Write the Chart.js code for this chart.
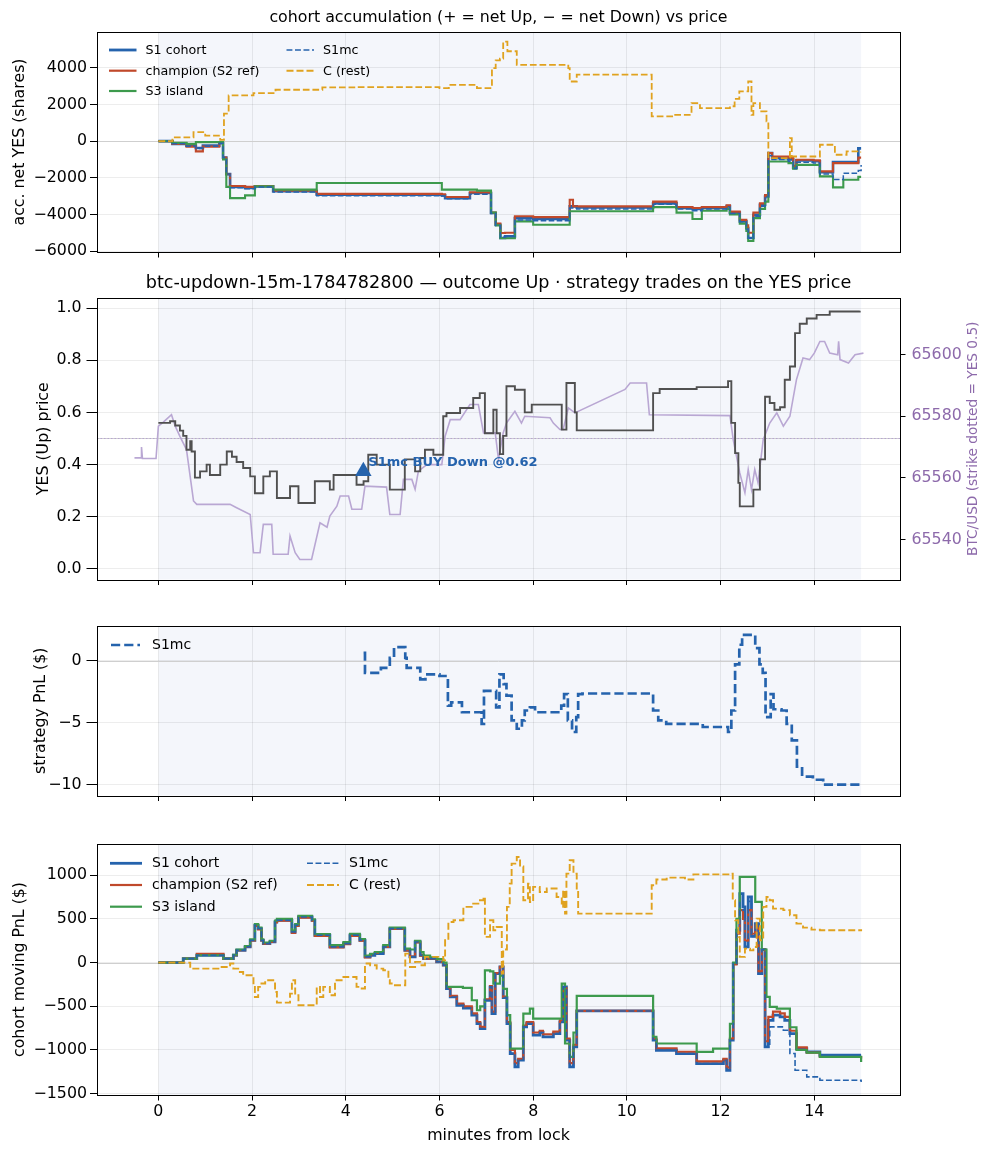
<!DOCTYPE html>
<html>
<head>
<meta charset="utf-8">
<script src="https://cdn.jsdelivr.net/npm/chart.js@4.4.1/dist/chart.umd.min.js"></script>
<style>
  html, body { margin: 0; padding: 0; background: #fff; }
  #wrap { position: relative; width: 993px; height: 1156px; }
  canvas { position: absolute; left: 0; }
</style>
</head>
<body>
<div id="wrap">
  <canvas id="accChart" width="993" height="265" style="top:0px"></canvas>
  <canvas id="priceChart" width="993" height="330" style="top:265px"></canvas>
  <canvas id="pnlChart" width="993" height="215" style="top:595px"></canvas>
  <canvas id="movChart" width="993" height="346" style="top:810px"></canvas>
</div>
<script>
// --- data (minutes from lock) ---
const xTicks = [0, 2, 4, 6, 8, 10, 12, 14];
const accTicks = [-6000, -4000, -2000, 0, 2000, 4000];
const yesTicks = [0, 0.2, 0.4, 0.6, 0.8, 1.0];
const btcTicks = [65540, 65560, 65580, 65600];
const pnlTicks = [-10, -5, 0];
const movTicks = [-1500, -1000, -500, 0, 500, 1000];

const lockWindow = [0, 15];
const strikePrice = 65572.9;

// panel 1: accumulated net YES shares
const accS1 = [[0,0],[0.3,-150],[0.6,-250],[0.8,-380],[0.95,-250],[1.3,-110],[1.38,-900],[1.45,-1800],[1.53,-2500],[1.85,-2560],[2.06,-2470],[2.45,-2740],[3.38,-2925],[6.05,-2960],[6.12,-3110],[6.65,-2835],[7.1,-3925],[7.2,-4560],[7.3,-5290],[7.4,-5200],[7.61,-4200],[8.0,-4250],[8.78,-3560],[8.93,-3615],[10.56,-3400],[11.06,-3650],[11.4,-3700],[11.6,-3650],[12.13,-3550],[12.2,-3900],[12.41,-4380],[12.55,-4740],[12.59,-5290],[12.7,-4020],[12.84,-3470],[12.95,-3020],[13.02,-650],[13.1,-930],[13.45,-1000],[13.55,-1470],[13.62,-1050],[13.98,-1100],[14.12,-1700],[14.4,-1150],[14.94,-400],[15.0,-400]];
const accChamp = [[0,0],[0.3,-150],[0.6,-300],[0.8,-560],[0.95,-300],[1.3,-100],[1.38,-900],[1.45,-1800],[1.53,-2450],[1.85,-2500],[2.06,-2450],[2.45,-2700],[3.38,-2880],[6.05,-2900],[6.12,-3050],[6.65,-2800],[7.1,-3900],[7.2,-4500],[7.3,-5010],[7.4,-5000],[7.61,-4100],[8.0,-4150],[8.78,-3200],[8.85,-3560],[10.56,-3300],[11.06,-3600],[11.4,-3650],[11.6,-3600],[12.13,-3500],[12.2,-3850],[12.41,-4300],[12.55,-4600],[12.59,-5000],[12.7,-3900],[12.84,-3400],[12.95,-2950],[13.02,-650],[13.1,-840],[13.45,-900],[13.55,-1350],[13.62,-1020],[13.98,-1050],[14.12,-1650],[14.4,-1200],[14.94,-900],[15.0,-900]];
const accS3 = [[0,0],[0.3,-100],[0.6,-150],[0.8,-55],[1.3,-55],[1.38,-1000],[1.45,-2500],[1.53,-3110],[1.85,-2960],[2.06,-2470],[2.45,-2650],[3.38,-2290],[6.05,-2650],[6.8,-2700],[7.1,-3900],[7.2,-4600],[7.3,-5300],[7.61,-4380],[8.0,-4560],[8.78,-3830],[10.56,-3600],[11.06,-3900],[11.4,-4250],[11.6,-3800],[12.13,-3700],[12.2,-4000],[12.41,-4500],[12.55,-4900],[12.59,-5450],[12.7,-4200],[12.84,-3700],[12.95,-3300],[13.02,-1110],[13.45,-1200],[13.55,-1500],[13.62,-1300],[14.12,-1925],[14.4,-2525],[14.62,-2110],[14.94,-1950],[15.0,-1950]];
const accS1mc = [[0,0],[0.3,-150],[0.6,-280],[0.8,-400],[0.95,-280],[1.3,-120],[1.38,-900],[1.45,-1800],[1.53,-2550],[1.85,-2600],[2.06,-2500],[2.45,-2780],[3.38,-2980],[6.05,-3000],[6.12,-3150],[6.65,-2900],[7.1,-3950],[7.2,-4600],[7.3,-5250],[7.4,-5200],[7.61,-4300],[8.0,-4350],[8.78,-3650],[8.93,-3700],[10.56,-3450],[11.06,-3700],[11.4,-3800],[11.6,-3700],[12.13,-3600],[12.2,-3950],[12.41,-4400],[12.55,-4800],[12.59,-5300],[12.7,-4100],[12.84,-3550],[12.95,-3100],[13.02,-800],[13.1,-1000],[13.45,-1100],[13.55,-1500],[13.62,-1150],[13.98,-1200],[14.12,-1800],[14.4,-2100],[14.62,-1750],[14.94,-1600],[15.0,-1300]];
const accRest = [[0,0],[0.3,200],[0.75,490],[1.0,300],[1.32,70],[1.4,1500],[1.5,2490],[2.03,2620],[2.5,2800],[3.5,2925],[4.23,2945],[6.0,2890],[6.2,3070],[6.8,2890],[7.12,3980],[7.2,4400],[7.29,4500],[7.36,5430],[7.45,4900],[7.65,4160],[8.75,3980],[8.78,3250],[8.93,3620],[10.53,1345],[11.0,1435],[11.38,2070],[11.56,1800],[12.2,1900],[12.3,2300],[12.4,2710],[12.59,3250],[12.66,1435],[12.7,2070],[12.84,1620],[12.98,1070],[13.02,-930],[13.45,-900],[13.48,165],[13.52,-840],[14.12,-200],[14.44,-745],[14.69,-560],[14.97,-600],[15.0,-600]];

// panel 2: YES price and BTC/USD
const yesPrice = [[0,0.56],[0.25,0.566],[0.36,0.55],[0.46,0.53],[0.53,0.51],[0.6,0.457],[0.68,0.49],[0.71,0.45],[0.78,0.35],[0.89,0.374],[1.03,0.40],[1.1,0.36],[1.32,0.40],[1.46,0.45],[1.57,0.43],[1.67,0.41],[1.81,0.387],[1.96,0.355],[2.06,0.29],[2.24,0.355],[2.38,0.374],[2.53,0.272],[2.81,0.317],[2.99,0.253],[3.34,0.336],[3.66,0.304],[3.74,0.36],[4.23,0.323],[4.38,0.336],[4.48,0.438],[4.66,0.40],[4.94,0.304],[5.26,0.42],[5.48,0.374],[5.59,0.425],[5.69,0.457],[5.87,0.438],[6.08,0.585],[6.15,0.598],[6.44,0.617],[6.72,0.655],[6.86,0.674],[6.97,0.52],[7.15,0.61],[7.22,0.52],[7.29,0.44],[7.36,0.51],[7.43,0.70],[7.61,0.687],[7.82,0.60],[7.97,0.63],[8.61,0.534],[8.71,0.713],[8.89,0.6],[8.93,0.531],[10.56,0.674],[10.7,0.69],[11.49,0.697],[12.16,0.72],[12.23,0.56],[12.31,0.444],[12.38,0.33],[12.41,0.24],[12.7,0.304],[12.84,0.42],[12.95,0.66],[13.05,0.636],[13.15,0.61],[13.27,0.62],[13.37,0.725],[13.48,0.776],[13.59,0.904],[13.69,0.94],[13.84,0.96],[14.05,0.974],[14.33,0.987],[14.97,0.99]];
const btcPrice = [[-0.51,65566.5],[-0.37,65566.5],[-0.36,65570],[-0.34,65566.3],[-0.05,65566.3],[0.0,65576.8],[0.1,65578],[0.28,65580.5],[0.36,65576.8],[0.46,65573.5],[0.6,65569.2],[0.75,65552.5],[0.82,65551.4],[1.53,65551.4],[1.67,65550.3],[1.96,65548.1],[2.03,65535.7],[2.17,65535.7],[2.24,65544.9],[2.42,65544.9],[2.45,65535.2],[2.77,65535.2],[2.81,65541.1],[2.92,65535.7],[3.02,65533.5],[3.27,65533.5],[3.45,65545.4],[3.6,65544],[3.66,65547.6],[3.81,65550.8],[3.88,65554.1],[4.06,65554.1],[4.13,65549.8],[4.34,65549.8],[4.41,65557.3],[4.87,65557],[4.94,65548.1],[5.16,65548.1],[5.23,65559.5],[5.41,65559.5],[5.48,65556.3],[5.55,65562.2],[5.73,65564.3],[6.05,65564.3],[6.12,65573.5],[6.23,65578.9],[6.44,65578.9],[6.65,65583.8],[6.83,65583.8],[6.94,65574.6],[7.19,65574.6],[7.26,65566],[7.36,65574.6],[7.43,65577.8],[7.61,65581.6],[7.75,65577.8],[7.82,65580],[8.36,65579.5],[8.43,65577.8],[8.57,65575.7],[8.64,65575.7],[8.75,65582.7],[8.89,65581.1],[9.96,65588.7],[10.07,65590.8],[10.42,65590.8],[10.48,65580.5],[12.2,65580.2],[12.27,65572.4],[12.41,65561.6],[12.52,65555.2],[12.59,65562.7],[12.66,65556.2],[12.73,65562.7],[12.8,65558.4],[12.91,65572.4],[13.05,65577.8],[13.2,65581.1],[13.34,65576.8],[13.48,65580],[13.62,65591.9],[13.76,65598.9],[13.9,65598.4],[14.0,65600.5],[14.12,65604.3],[14.22,65604.3],[14.33,65600.5],[14.5,65600],[14.52,65604.3],[14.55,65598.4],[14.73,65597.3],[14.87,65600],[15.05,65600.5]];
const tradeTimes = [4.375];
const tradePrices = [0.374];
const tradeLabel = 'S1mc BUY Down @0.62';

// panel 3: strategy PnL
const pnlS1mc = [[4.38,0.64],[4.41,-0.96],[4.75,-0.56],[4.94,0.24],[5.03,1.11],[5.27,0.24],[5.3,-0.56],[5.59,-1.49],[5.7,-1.09],[6.0,-1.22],[6.18,-3.6],[6.25,-3.34],[6.48,-4.14],[6.9,-5.07],[6.95,-2.42],[7.21,-3.74],[7.28,-1.09],[7.37,-1.88],[7.43,-2.8],[7.54,-4.8],[7.65,-5.47],[7.76,-4.8],[7.82,-4.0],[7.93,-3.74],[8.04,-4.14],[8.6,-3.6],[8.66,-2.68],[8.74,-4.8],[8.83,-5.73],[8.92,-4.54],[8.96,-2.68],[9.05,-2.63],[10.56,-4.0],[10.67,-4.8],[10.84,-5.07],[11.62,-5.33],[12.16,-5.73],[12.23,-4.0],[12.31,-0.29],[12.4,1.3],[12.46,2.1],[12.74,1.03],[12.83,-0.29],[12.9,-0.96],[12.96,-4.54],[13.07,-2.68],[13.13,-3.9],[13.3,-4.0],[13.41,-5.07],[13.52,-6.4],[13.63,-8.52],[13.74,-9.32],[13.97,-9.58],[14.19,-9.98],[14.97,-10.1]];

// panel 4: cohort moving PnL
const movS1 = [[0,0],[0.53,46],[0.82,84],[1.32,84],[1.39,46],[1.6,84],[1.67,141],[1.85,180],[1.96,255],[2.06,427],[2.13,389],[2.2,255],[2.24,217],[2.38,236],[2.49,465],[2.53,484],[2.85,350],[2.92,427],[2.99,522],[3.28,484],[3.34,313],[3.66,180],[3.95,217],[4.09,313],[4.3,255],[4.41,65],[4.52,84],[4.62,103],[4.8,180],[4.94,389],[5.26,141],[5.37,65],[5.48,236],[5.59,84],[5.66,46],[5.94,8],[6.08,-30],[6.15,-297],[6.23,-393],[6.37,-488],[6.51,-520],[6.69,-602],[6.8,-698],[6.87,-755],[6.97,-431],[7.08,-278],[7.12,-583],[7.19,-126],[7.29,-50],[7.36,-400],[7.44,-698],[7.51,-1041],[7.61,-1193],[7.68,-1117],[7.79,-736],[7.86,-698],[8.0,-831],[8.14,-800],[8.21,-850],[8.43,-812],[8.57,-679],[8.64,-278],[8.71,-888],[8.78,-1193],[8.86,-965],[8.93,-553],[10.56,-888],[10.63,-1003],[11.06,-1041],[11.49,-1155],[12.06,-1117],[12.13,-1232],[12.2,-888],[12.27,-11],[12.34,370],[12.41,789],[12.48,637],[12.52,179],[12.59,751],[12.66,300],[12.74,446],[12.81,-126],[12.88,150],[12.95,-965],[13.02,-660],[13.12,-602],[13.27,-620],[13.37,-660],[13.48,-812],[13.62,-984],[13.84,-1022],[14.12,-1060],[15.0,-1060]];
const movChamp = [[0,0],[0.53,46],[0.82,100],[1.32,100],[1.39,46],[1.6,84],[1.67,141],[1.85,180],[1.96,255],[2.06,420],[2.13,380],[2.2,255],[2.24,217],[2.38,236],[2.49,460],[2.53,480],[2.85,340],[2.92,420],[2.99,515],[3.28,480],[3.34,305],[3.66,175],[3.95,210],[4.09,305],[4.3,250],[4.41,60],[4.52,90],[4.62,110],[4.8,180],[4.94,385],[5.26,140],[5.37,70],[5.48,230],[5.59,80],[5.66,46],[5.94,8],[6.08,-30],[6.15,-290],[6.23,-380],[6.37,-470],[6.51,-500],[6.69,-580],[6.8,-680],[6.87,-735],[6.97,-420],[7.08,-270],[7.12,-560],[7.19,-120],[7.29,-50],[7.36,-390],[7.44,-680],[7.51,-1000],[7.61,-1150],[7.68,-1100],[7.79,-720],[7.86,-680],[8.0,-800],[8.14,-780],[8.21,-820],[8.43,-790],[8.57,-660],[8.64,-290],[8.71,-870],[8.78,-1150],[8.86,-940],[8.93,-553],[10.56,-870],[10.63,-980],[11.06,-1020],[11.49,-1130],[12.06,-1100],[12.13,-1200],[12.2,-870],[12.27,-20],[12.34,330],[12.41,600],[12.48,500],[12.52,250],[12.59,600],[12.66,330],[12.74,420],[12.81,-100],[12.88,150],[12.95,-900],[13.02,-620],[13.12,-560],[13.27,-580],[13.37,-620],[13.48,-780],[13.62,-970],[13.84,-1030],[14.12,-1080],[15.0,-1098]];
const movS3 = [[0,0],[0.53,46],[0.82,84],[1.32,84],[1.39,46],[1.6,90],[1.67,150],[1.85,190],[1.96,265],[2.06,440],[2.13,400],[2.2,265],[2.24,230],[2.38,250],[2.49,480],[2.53,500],[2.85,365],[2.92,440],[2.99,535],[3.28,495],[3.34,325],[3.66,200],[3.95,235],[4.09,330],[4.3,270],[4.41,80],[4.52,100],[4.62,120],[4.8,200],[4.94,400],[5.26,160],[5.37,150],[5.48,250],[5.59,120],[5.66,80],[5.8,60],[5.94,40],[6.08,0],[6.15,-278],[6.5,-290],[6.69,-431],[6.8,-545],[6.87,-500],[6.97,-88],[7.08,-100],[7.15,-240],[7.29,-150],[7.36,-300],[7.44,-600],[7.51,-984],[7.79,-583],[7.93,-526],[8.0,-640],[8.61,-240],[8.68,-926],[8.78,-1079],[8.86,-800],[8.93,-381],[10.56,-850],[10.63,-926],[11.49,-1022],[11.84,-984],[12.2,-700],[12.27,0],[12.34,500],[12.41,980],[12.74,694],[12.88,150],[12.98,-393],[13.05,-507],[13.2,-526],[13.48,-740],[13.62,-1000],[13.84,-1030],[14.12,-1079],[15.0,-1136]];
const movS1mc = [[0,0],[0.53,46],[0.82,84],[1.32,84],[1.39,46],[1.6,84],[1.67,141],[1.85,180],[1.96,255],[2.06,427],[2.13,389],[2.2,255],[2.24,217],[2.38,236],[2.49,465],[2.53,484],[2.85,350],[2.92,427],[2.99,522],[3.28,484],[3.34,313],[3.66,180],[3.95,217],[4.09,313],[4.3,255],[4.41,65],[4.52,84],[4.62,103],[4.8,180],[4.94,389],[5.26,141],[5.37,65],[5.48,236],[5.59,84],[5.66,46],[5.94,8],[6.08,-30],[6.15,-297],[6.23,-393],[6.37,-488],[6.51,-520],[6.69,-602],[6.8,-698],[6.87,-755],[6.97,-431],[7.08,-278],[7.12,-583],[7.19,-126],[7.29,-50],[7.36,-400],[7.44,-698],[7.51,-1041],[7.61,-1193],[7.68,-1117],[7.79,-736],[7.86,-698],[8.0,-831],[8.14,-800],[8.21,-850],[8.43,-812],[8.57,-679],[8.64,-278],[8.71,-888],[8.78,-1193],[8.86,-965],[8.93,-553],[10.56,-888],[10.63,-1003],[11.06,-1041],[11.49,-1155],[12.06,-1117],[12.13,-1232],[12.2,-888],[12.27,-11],[12.34,370],[12.41,700],[12.48,600],[12.52,179],[12.59,700],[12.66,300],[12.74,446],[12.81,-126],[12.88,150],[12.95,-965],[13.05,-736],[13.34,-774],[13.48,-1041],[13.59,-1232],[13.84,-1308],[14.12,-1346],[15.0,-1365]];
const movRest = [[0,0],[0.68,-69],[1.32,-50],[1.53,-11],[1.6,-69],[1.74,-107],[1.81,-145],[2.03,-278],[2.06,-393],[2.13,-278],[2.2,-240],[2.28,-202],[2.49,-336],[2.53,-458],[2.81,-355],[2.85,-202],[2.92,-374],[2.99,-488],[3.38,-278],[3.45,-393],[3.52,-278],[3.66,-374],[3.77,-202],[3.95,-164],[4.23,-278],[4.34,-297],[4.41,-11],[4.52,-30],[4.66,-69],[4.8,-88],[4.91,-202],[4.94,-240],[5.02,-259],[5.27,103],[5.37,-50],[5.48,8],[5.59,-30],[5.69,65],[6.08,27],[6.12,255],[6.19,465],[6.3,484],[6.51,637],[6.72,675],[6.83,713],[6.94,751],[6.97,294],[7.08,484],[7.15,370],[7.22,408],[7.33,-126],[7.36,150],[7.44,637],[7.5,904],[7.54,1132],[7.65,1209],[7.72,1100],[7.79,713],[7.89,904],[7.93,694],[8.0,866],[8.14,808],[8.29,847],[8.5,751],[8.61,637],[8.64,827],[8.68,560],[8.71,1018],[8.78,1171],[8.86,1018],[8.93,827],[8.96,560],[10.53,885],[10.63,950],[10.85,972],[11.24,950],[11.42,1010],[12.2,1018],[12.26,713],[12.31,484],[12.38,294],[12.41,65],[12.52,160],[12.63,140],[12.7,179],[12.77,503],[12.84,255],[12.91,637],[12.98,751],[13.05,713],[13.12,618],[13.34,600],[13.48,541],[13.62,446],[13.76,400],[13.94,377],[14.12,370],[15.0,360]];

// --- styling ---
const FONT = "'DejaVu Sans', sans-serif";
const TICK_SIZE = 15.8;
Chart.defaults.font.family = FONT;
Chart.defaults.font.size = TICK_SIZE;
Chart.defaults.color = '#000';

const BLUE = '#2563ad', RED = '#c0492b', GREEN = '#3d9a4d', GOLD = '#e0a21f';
const GREY_LINE = '#505050', BTC_LINE = '#b9a7d3', PURPLE = '#8d6aab';
const GRID = 'rgba(0,0,0,0.07)', SHADE = '#f4f6fb';
const X_MIN = -1.31, X_MAX = 15.83;
const AREA_LEFT = 97, AREA_RIGHT_PAD = 93;

const pts = arr => arr.map(([x, y]) => ({ x, y }));
const mfmt = v => (v < 0 ? '\u2212' + Math.abs(v) : String(v));

function line(label, data, color, width, dash, order, extra) {
  return Object.assign({
    label, data: pts(data), borderColor: color, borderWidth: width,
    borderDash: dash || [], pointRadius: 0, stepped: true, fill: false, order
  }, extra || {});
}

function xScale(labels, h) {
  return {
    type: 'linear', min: X_MIN, max: X_MAX,
    afterBuildTicks: s => { s.ticks = xTicks.map(v => ({ value: v })); },
    afterFit: s => { s.height = h; },
    grid: { color: GRID, tickColor: '#000', tickLength: 5.5 },
    border: { display: false },
    ticks: { display: labels, padding: 2, autoSkip: false, maxRotation: 0, font: { size: TICK_SIZE }, callback: v => mfmt(v) },
    title: labels ? { display: true, text: 'minutes from lock', font: { size: TICK_SIZE }, padding: { top: 0, bottom: 10.5 } } : { display: false }
  };
}

function yScale(min, max, ticks, fmt, title, pad, tickLen, tickPad) {
  return {
    type: 'linear', position: 'left', min, max,
    afterBuildTicks: s => { s.ticks = ticks.map(v => ({ value: v })); },
    afterFit: s => { s.width = AREA_LEFT; },
    grid: { color: GRID, tickColor: '#000', tickLength: tickLen },
    border: { display: false },
    ticks: { padding: tickPad, autoSkip: false, font: { size: TICK_SIZE }, callback: fmt },
    title: { display: true, text: title, font: { size: TICK_SIZE }, padding: { top: pad, bottom: 0 } }
  };
}

// shading, reference lines, frame, title, legend and annotation
const decor = {
  id: 'decor',
  beforeDraw(chart, args, o) {
    const { ctx, chartArea: a, scales } = chart;
    const x0 = scales.x.getPixelForValue(lockWindow[0]);
    const x1 = scales.x.getPixelForValue(lockWindow[1]);
    ctx.save();
    ctx.fillStyle = SHADE;
    ctx.fillRect(x0, a.top, x1 - x0, a.bottom - a.top);
    ctx.restore();
  },
  beforeDatasetsDraw(chart, args, o) {
    const { ctx, chartArea: a, scales } = chart;
    ctx.save();
    if (o.refY !== undefined) {
      const y = Math.round(scales.y.getPixelForValue(o.refY)) + 0.5;
      ctx.strokeStyle = '#cfcfcf';
      ctx.lineWidth = 1;
      ctx.beginPath(); ctx.moveTo(a.left, y); ctx.lineTo(a.right, y); ctx.stroke();
    }
    if (o.strike && scales.y2) {
      const y = Math.round(scales.y2.getPixelForValue(strikePrice)) + 0.5;
      ctx.strokeStyle = '#b7a5d2';
      ctx.setLineDash([1.5, 2]);
      ctx.beginPath(); ctx.moveTo(a.left, y); ctx.lineTo(a.right, y); ctx.stroke();
    }
    ctx.restore();
  },
  afterDraw(chart, args, o) {
    const { ctx, chartArea: a } = chart;
    ctx.save();
    ctx.strokeStyle = '#000';
    ctx.lineWidth = 1;
    ctx.strokeRect(Math.round(a.left) + 0.5, Math.round(a.top) + 0.5,
      Math.round(a.right - a.left), Math.round(a.bottom - a.top));

    if (o.title) {
      ctx.fillStyle = '#000';
      ctx.font = o.titleSize + 'px ' + FONT;
      ctx.textAlign = 'center';
      ctx.textBaseline = 'middle';
      ctx.fillText(o.title, (a.left + a.right) / 2, a.top - o.titleGap);
    }
    if (o.rightTitle) {
      ctx.save();
      ctx.translate(o.rightTitleX, (a.top + a.bottom) / 2);
      ctx.rotate(-Math.PI / 2);
      ctx.fillStyle = PURPLE;
      ctx.font = '13.7px ' + FONT;
      ctx.textAlign = 'center';
      ctx.textBaseline = 'middle';
      ctx.fillText(o.rightTitle, 0, 0);
      ctx.restore();
    }
    if (o.legend) {
      const L = o.legend;
      ctx.font = L.size + 'px ' + FONT;
      ctx.textBaseline = 'middle';
      ctx.textAlign = 'left';
      L.items.forEach(it => {
        const x = a.left + L.cols[it.col];
        const y = a.top + L.rows[it.row];
        ctx.strokeStyle = it.color;
        ctx.lineWidth = it.width;
        ctx.setLineDash(it.dash || []);
        ctx.beginPath(); ctx.moveTo(x, y); ctx.lineTo(x + L.handle, y); ctx.stroke();
        ctx.setLineDash([]);
        ctx.fillStyle = '#000';
        ctx.fillText(it.text, x + L.handle + L.gap, y + 0.5);
      });
    }
    if (o.annotate) {
      const meta = chart.getDatasetMeta(o.annotate.dataset);
      const p = meta.data[0];
      if (p) {
        ctx.fillStyle = BLUE;
        ctx.font = 'bold 13px ' + FONT;
        ctx.textAlign = 'left';
        ctx.textBaseline = 'middle';
        ctx.fillText(o.annotate.text, p.x + 5, p.y - 9);
      }
    }
    ctx.restore();
  }
};

const cohortLegend = (size, cols, rows, handle, gap) => ({
  size, cols, rows, handle, gap,
  items: [
    { text: 'S1 cohort', color: BLUE, width: 2.8, col: 0, row: 0 },
    { text: 'champion (S2 ref)', color: RED, width: 2.2, col: 0, row: 1 },
    { text: 'S3 island', color: GREEN, width: 2.2, col: 0, row: 2 },
    { text: 'S1mc', color: BLUE, width: 1.6, dash: [5.9, 2.6], col: 1, row: 0 },
    { text: 'C (rest)', color: GOLD, width: 1.9, dash: [7, 3], col: 1, row: 1 }
  ]
});

const baseOpts = (padTop, padRight) => ({
  responsive: false, animation: false, events: [],
  layout: { autoPadding: false, padding: { top: padTop, right: padRight, left: 0, bottom: 0 } },
  plugins: { legend: { display: false }, tooltip: { enabled: false } }
});

// --- panel 1: accumulation ---
const o1 = baseOpts(32, AREA_RIGHT_PAD);
o1.scales = {
  x: xScale(false, 13),
  y: yScale(-6050, 5950, accTicks, v => mfmt(v), 'acc. net YES (shares)', 10, 7, 3)
};
o1.plugins.decor = {
  refY: 0, title: 'cohort accumulation (+ = net Up, \u2212 = net Down) vs price', titleSize: 15.8, titleGap: 14,
  legend: cohortLegend(12.7, [12, 189.5], [18, 38.7, 59], 27.5, 9)
};
new Chart(document.getElementById('accChart'), {
  type: 'line',
  data: { datasets: [
    line('S1 cohort', accS1, BLUE, 2.6, null, 5),
    line('champion (S2 ref)', accChamp, RED, 2.1, null, 4),
    line('S3 island', accS3, GREEN, 2.1, null, 3),
    line('S1mc', accS1mc, BLUE, 1.5, [5.6, 2.4], 2),
    line('C (rest)', accRest, GOLD, 1.8, [6.7, 2.9], 1)
  ] },
  options: o1,
  plugins: [decor]
});

// --- panel 2: YES price with BTC on twin axis ---
const o2 = baseOpts(33, 0);
o2.scales = {
  x: xScale(false, 15),
  y: yScale(-0.0405, 1.0385, yesTicks, v => v.toFixed(1), 'YES (Up) price', 34, 10.5, 5),
  y2: {
    type: 'linear', position: 'right', min: 65527, max: 65618.4,
    afterBuildTicks: s => { s.ticks = btcTicks.map(v => ({ value: v })); },
    afterFit: s => { s.width = AREA_RIGHT_PAD; },
    grid: { drawOnChartArea: false, tickColor: '#000', tickLength: 5.5 },
    border: { display: false },
    ticks: { padding: 6, color: PURPLE, font: { size: TICK_SIZE }, callback: v => String(v) }
  }
};
o2.plugins.decor = {
  refY: 0.5, strike: true,
  title: 'btc-updown-15m-1784782800 \u2014 outcome Up \u00b7 strategy trades on the YES price', titleSize: 17.6, titleGap: 15,
  rightTitle: 'BTC/USD (strike dotted = YES 0.5)', rightTitleX: 973,
  annotate: { dataset: 0, text: tradeLabel }
};
new Chart(document.getElementById('priceChart'), {
  type: 'line',
  data: { datasets: [
    { type: 'scatter', label: 'trade', data: tradeTimes.map((t, i) => ({ x: t, y: tradePrices[i] })),
      pointStyle: 'triangle', pointRadius: 9.5, backgroundColor: BLUE, borderColor: BLUE, borderWidth: 0, order: 0 },
    line('YES price', yesPrice, GREY_LINE, 1.9, null, 1),
    line('BTC/USD', btcPrice, BTC_LINE, 1.6, null, 2, { stepped: false, yAxisID: 'y2' })
  ] },
  options: o2,
  plugins: [decor]
});

// --- panel 3: strategy PnL ---
const o3 = baseOpts(31, AREA_RIGHT_PAD);
o3.scales = {
  x: xScale(false, 12),
  y: yScale(-10.85, 2.81, pnlTicks, v => mfmt(v), 'strategy PnL ($)', 31.5, 10.5, 5)
};
o3.plugins.decor = {
  refY: 0,
  legend: { size: 14, cols: [14], rows: [19], handle: 29, gap: 12,
    items: [{ text: 'S1mc', color: BLUE, width: 2.6, dash: [9.2, 4], col: 0, row: 0 }] }
};
new Chart(document.getElementById('pnlChart'), {
  type: 'line',
  data: { datasets: [line('S1mc', pnlS1mc, BLUE, 2.7, [9.2, 4], 1)] },
  options: o3,
  plugins: [decor]
});

// --- panel 4: cohort moving PnL ---
const o4 = baseOpts(34, AREA_RIGHT_PAD);
o4.scales = {
  x: xScale(true, 61),
  y: yScale(-1515, 1357, movTicks, v => mfmt(v), 'cohort moving PnL ($)', 10, 7, 3)
};
o4.plugins.decor = {
  refY: 0,
  legend: cohortLegend(14, [13, 210], [19.3, 41, 62.7], 32, 10)
};
new Chart(document.getElementById('movChart'), {
  type: 'line',
  data: { datasets: [
    line('S1 cohort', movS1, BLUE, 2.8, null, 5),
    line('champion (S2 ref)', movChamp, RED, 2.2, null, 4),
    line('S3 island', movS3, GREEN, 2.2, null, 3),
    line('S1mc', movS1mc, BLUE, 1.6, [5.9, 2.6], 2),
    line('C (rest)', movRest, GOLD, 1.9, [7, 3], 1)
  ] },
  options: o4,
  plugins: [decor]
});
</script>
</body>
</html>
